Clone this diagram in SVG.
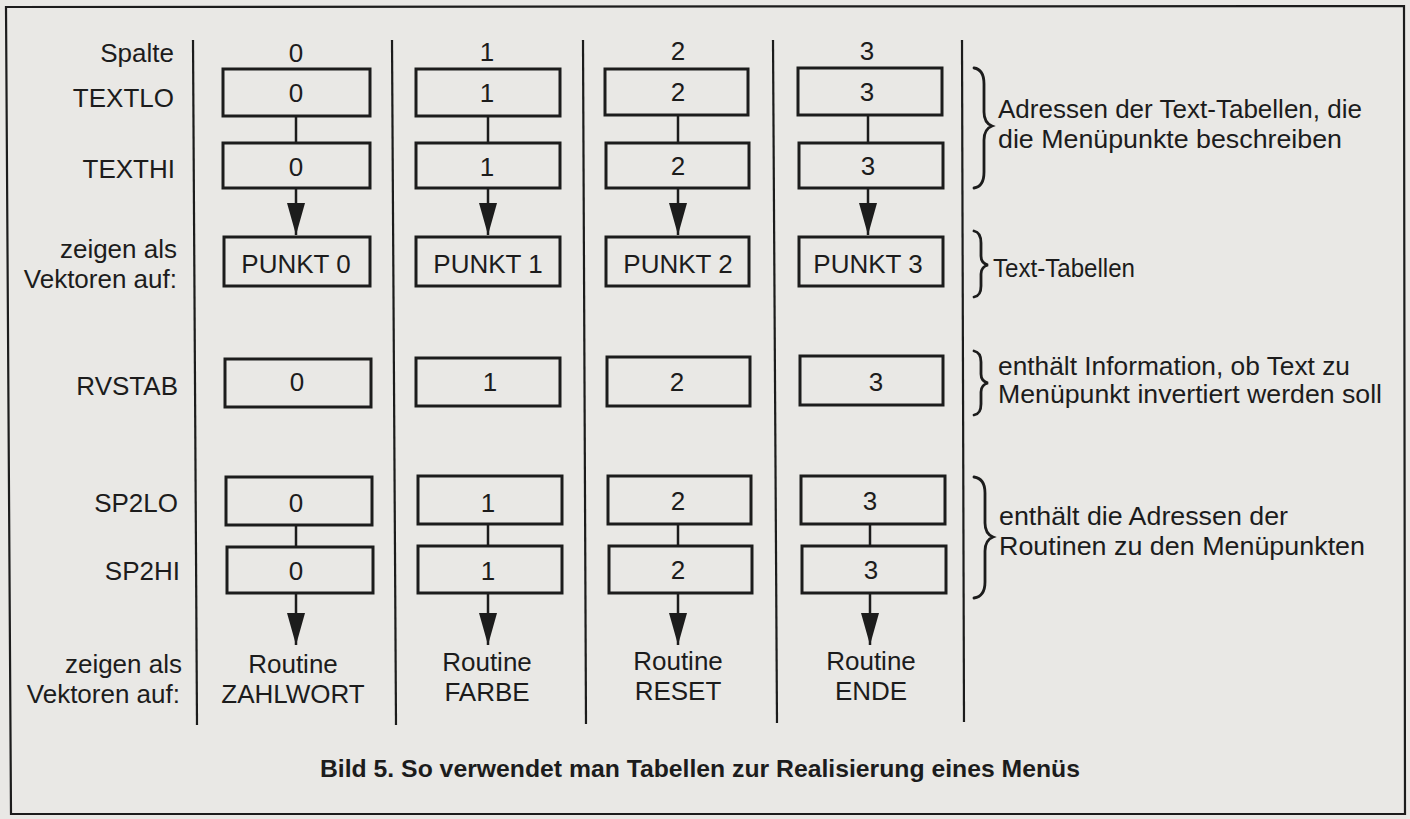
<svg xmlns="http://www.w3.org/2000/svg" width="1410" height="819" viewBox="0 0 1410 819">
<style>
text{font-family:"Liberation Sans",Arial,sans-serif;fill:#1c1c1c;font-size:26px}
.lbl{text-anchor:end}
.c{text-anchor:middle}
.r{font-size:26px}
.cap{font-weight:bold;font-size:24px}
.box{fill:none;stroke:#1c1c1c;stroke-width:3}
.sep{stroke:#1c1c1c;stroke-width:2.2;fill:none}
.con{stroke:#1c1c1c;stroke-width:2.5;fill:none}
.brace{stroke:#1c1c1c;stroke-width:2.8;fill:none;stroke-linecap:round}
</style>
<defs>
<marker id="ah" viewBox="0 0 32 18" refX="32" refY="9" markerWidth="32" markerHeight="18" markerUnits="userSpaceOnUse" orient="auto">
<path d="M0,0 L32,9 L0,18 Z" fill="#1c1c1c"/>
</marker>
</defs>
<rect x="0" y="0" width="1410" height="819" fill="#e9e8e5"/>
<polygon points="6,7 1404,6 1405,814 11,814" fill="none" stroke="#1c1c1c" stroke-width="2.2"/>

<g id="separators">
<line class="sep" x1="193" y1="40" x2="197" y2="725"/>
<line class="sep" x1="392" y1="40" x2="396" y2="725"/>
<line class="sep" x1="583" y1="40" x2="586" y2="724"/>
<line class="sep" x1="773" y1="40" x2="777" y2="723"/>
<line class="sep" x1="962" y1="40" x2="964" y2="722"/>
</g>

<g id="row-labels">
<text class="lbl" x="174" y="62">Spalte</text>
<text class="lbl" x="174" y="107">TEXTLO</text>
<text class="lbl" x="175" y="178">TEXTHI</text>
<text class="lbl" x="177" y="258">zeigen als</text>
<text class="lbl" x="177" y="288">Vektoren auf:</text>
<text class="lbl" x="178" y="395">RVSTAB</text>
<text class="lbl" x="178" y="512">SP2LO</text>
<text class="lbl" x="180" y="580">SP2HI</text>
<text class="lbl" x="182" y="673">zeigen als</text>
<text class="lbl" x="180" y="703">Vektoren auf:</text>
</g>

<g id="col-numbers">
<text class="c" x="296" y="62">0</text>
<text class="c" x="487" y="61">1</text>
<text class="c" x="678" y="60">2</text>
<text class="c" x="867" y="60">3</text>
</g>

<g id="connectors">
<line class="con" x1="296" y1="116" x2="296" y2="143"/>
<line class="con" x1="488" y1="116" x2="488" y2="143"/>
<line class="con" x1="678" y1="116" x2="678" y2="143"/>
<line class="con" x1="868" y1="116" x2="868" y2="143"/>
<line class="con" x1="296" y1="188" x2="296" y2="235" marker-end="url(#ah)"/>
<line class="con" x1="488" y1="188" x2="488" y2="235" marker-end="url(#ah)"/>
<line class="con" x1="678" y1="188" x2="678" y2="235" marker-end="url(#ah)"/>
<line class="con" x1="868" y1="188" x2="868" y2="235" marker-end="url(#ah)"/>
<line class="con" x1="296" y1="524" x2="296" y2="546"/>
<line class="con" x1="488" y1="524" x2="488" y2="546"/>
<line class="con" x1="678" y1="524" x2="678" y2="546"/>
<line class="con" x1="870" y1="524" x2="870" y2="546"/>
<line class="con" x1="296" y1="593" x2="296" y2="645" marker-end="url(#ah)"/>
<line class="con" x1="488" y1="593" x2="488" y2="645" marker-end="url(#ah)"/>
<line class="con" x1="678" y1="593" x2="678" y2="645" marker-end="url(#ah)"/>
<line class="con" x1="870" y1="593" x2="870" y2="645" marker-end="url(#ah)"/>
</g>

<g id="col0">
<g id="textlo0"><rect class="box" x="223" y="69" width="147" height="47"/><text class="c" x="296" y="102">0</text></g>
<g id="texthi0"><rect class="box" x="223" y="143" width="147" height="45"/><text class="c" x="296" y="176">0</text></g>
<g id="punkt0"><rect class="box" x="224" y="237" width="146" height="49"/><text class="c" x="296" y="273">PUNKT 0</text></g>
<g id="rvstab0"><rect class="box" x="225" y="359" width="146" height="48"/><text class="c" x="297" y="391">0</text></g>
<g id="sp2lo0"><rect class="box" x="226" y="477" width="146" height="48"/><text class="c" x="296" y="512">0</text></g>
<g id="sp2hi0"><rect class="box" x="227" y="547" width="146" height="46"/><text class="c" x="296" y="580">0</text></g>
<g id="routine0"><text class="c" x="293" y="673">Routine</text><text class="c" x="293" y="703">ZAHLWORT</text></g>
</g>

<g id="col1">
<g id="textlo1"><rect class="box" x="416" y="69" width="144" height="47"/><text class="c" x="487" y="102">1</text></g>
<g id="texthi1"><rect class="box" x="416" y="143" width="144" height="45"/><text class="c" x="487" y="176">1</text></g>
<g id="punkt1"><rect class="box" x="416" y="237" width="144" height="49"/><text class="c" x="488" y="273">PUNKT 1</text></g>
<g id="rvstab1"><rect class="box" x="416" y="358" width="144" height="48"/><text class="c" x="490" y="391">1</text></g>
<g id="sp2lo1"><rect class="box" x="418" y="476" width="144" height="48"/><text class="c" x="488" y="512">1</text></g>
<g id="sp2hi1"><rect class="box" x="418" y="546" width="144" height="47"/><text class="c" x="488" y="580">1</text></g>
<g id="routine1"><text class="c" x="487" y="671">Routine</text><text class="c" x="487" y="701">FARBE</text></g>
</g>

<g id="col2">
<g id="textlo2"><rect class="box" x="605" y="69" width="143" height="46"/><text class="c" x="678" y="101">2</text></g>
<g id="texthi2"><rect class="box" x="606" y="143" width="143" height="45"/><text class="c" x="678" y="175">2</text></g>
<g id="punkt2"><rect class="box" x="606" y="237" width="143" height="49"/><text class="c" x="678" y="273">PUNKT 2</text></g>
<g id="rvstab2"><rect class="box" x="607" y="357" width="143" height="49"/><text class="c" x="677" y="391">2</text></g>
<g id="sp2lo2"><rect class="box" x="608" y="476" width="143" height="48"/><text class="c" x="678" y="510">2</text></g>
<g id="sp2hi2"><rect class="box" x="609" y="546" width="143" height="47"/><text class="c" x="678" y="579">2</text></g>
<g id="routine2"><text class="c" x="678" y="670">Routine</text><text class="c" x="678" y="700">RESET</text></g>
</g>

<g id="col3">
<g id="textlo3"><rect class="box" x="798" y="68" width="144" height="47"/><text class="c" x="867" y="101">3</text></g>
<g id="texthi3"><rect class="box" x="799" y="143" width="144" height="45"/><text class="c" x="868" y="175">3</text></g>
<g id="punkt3"><rect class="box" x="799" y="237" width="144" height="49"/><text class="c" x="868" y="273">PUNKT 3</text></g>
<g id="rvstab3"><rect class="box" x="800" y="356" width="143" height="49"/><text class="c" x="876" y="391">3</text></g>
<g id="sp2lo3"><rect class="box" x="801" y="476" width="144" height="48"/><text class="c" x="870" y="510">3</text></g>
<g id="sp2hi3"><rect class="box" x="802" y="546" width="144" height="47"/><text class="c" x="871" y="579">3</text></g>
<g id="routine3"><text class="c" x="871" y="670">Routine</text><text class="c" x="871" y="700">ENDE</text></g>
</g>

<g id="note-text-addr">
<path class="brace" d="M974,68 C981,69 984,74 984,84 L984,112 C984,120 987,124 992,126 C987,128 984,132 984,140 L984,172 C984,182 981,187 974,188"/>
<text class="r" x="998" y="118" textLength="364" lengthAdjust="spacingAndGlyphs">Adressen der Text-Tabellen, die</text>
<text class="r" x="998" y="148" textLength="344" lengthAdjust="spacingAndGlyphs">die Menüpunkte beschreiben</text>
</g>

<g id="note-text-tables">
<path class="brace" d="M974,231 C979,232 981,236 981,243 L981,256 C981,261 984,264 988,265 C984,266 981,269 981,274 L981,286 C981,293 979,296 974,297"/>
<text class="r" x="993" y="277" textLength="142" lengthAdjust="spacingAndGlyphs">Text-Tabellen</text>
</g>

<g id="note-rvstab">
<path class="brace" d="M974,351 C979,352 981,356 981,362 L981,374 C981,379 984,382 988,383 C984,384 981,387 981,392 L981,404 C981,411 979,414 974,415"/>
<text class="r" x="998" y="375" textLength="352" lengthAdjust="spacingAndGlyphs">enthält Information, ob Text zu</text>
<text class="r" x="998" y="403" textLength="384" lengthAdjust="spacingAndGlyphs">Menüpunkt invertiert werden soll</text>
</g>

<g id="note-sp2">
<path class="brace" d="M974,477 C981,478 985,483 985,493 L985,523 C985,531 988,535 993,537 C988,539 985,543 985,551 L985,582 C985,592 981,597 974,598"/>
<text class="r" x="999" y="525" textLength="289" lengthAdjust="spacingAndGlyphs">enthält die Adressen der</text>
<text class="r" x="999" y="555" textLength="366" lengthAdjust="spacingAndGlyphs">Routinen zu den Menüpunkten</text>
</g>

<g id="caption">
<text class="cap" x="320" y="777" textLength="760" lengthAdjust="spacingAndGlyphs">Bild 5. So verwendet man Tabellen zur Realisierung eines Menüs</text>
</g>
</svg>
